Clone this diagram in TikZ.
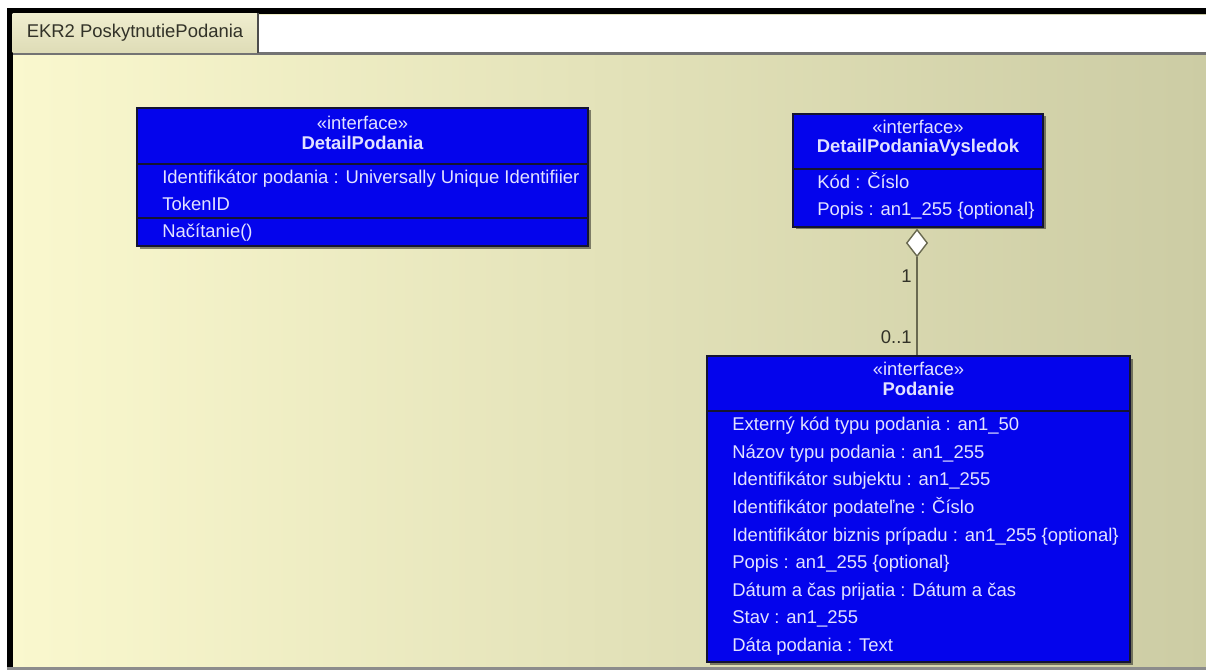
\documentclass[tikz,border=0pt]{standalone}
\usepackage{fontspec}
\setmainfont{Liberation Sans}
\usetikzlibrary{shapes.geometric, positioning, fit, shadows}
\definecolor{umlblue}{RGB}{4,4,236}
\definecolor{umltext}{RGB}{226,226,255}
\definecolor{umledge}{RGB}{20,20,50}
\definecolor{canvasleft}{RGB}{250,248,206}
\definecolor{canvasright}{RGB}{204,204,164}
\definecolor{tabtop}{RGB}{240,238,208}
\definecolor{tabbottom}{RGB}{222,220,182}
\definecolor{tabtext}{RGB}{50,50,40}
\definecolor{linkgray}{RGB}{105,105,80}

\begin{document}
\begin{tikzpicture}[x=0.02cm, y=-0.02cm,
  classbox/.style={draw=umledge, fill=umlblue, inner sep=0pt, line width=0.6pt,
                   drop shadow={shadow xshift=0.05cm, shadow yshift=-0.05cm,
                                opacity=0.45, fill=black}},
  sep/.style={draw=umledge, line width=0.8pt},
  stereo/.style={font=\fontsize{10.5}{12}\selectfont, text=umltext, inner sep=0pt},
  cname/.style={font=\fontsize{10.5}{12}\selectfont\bfseries, text=umltext, inner sep=0pt},
  attr/.style={font=\fontsize{10.5}{12}\selectfont, text=umltext, inner sep=0pt, anchor=mid west},
  mult/.style={font=\fontsize{10.5}{12}\selectfont, text=tabtext, inner sep=0pt, anchor=mid east},
  tabbox/.style={top color=tabtop, bottom color=tabbottom, inner sep=0pt,
                 minimum width=4.9cm, minimum height=0.8cm,
                 font=\fontsize{10.5}{12}\selectfont, text=tabtext},
  assoc/.style={draw=linkgray, line width=1pt},
  aggr/.style={diamond, draw=linkgray, fill=white, inner sep=0pt,
               minimum width=0.42cm, minimum height=0.54cm, line width=0.8pt},
]
\useasboundingbox (0,0) rectangle (1206,672);
\fill[white] (0,0) rectangle (1206,672);
\shade[left color=canvasleft, right color=canvasright] (10,12) rectangle (1206,668);
\fill[white] (258,15) rectangle (1206,52);
\fill[black!55] (13,52) rectangle (1206,55);
\fill[black] (7,8) rectangle (1206,14);
\fill[black] (7,8) rectangle (13,668);
\fill[black!45] (7,667) rectangle (1206,670);

\node[tabbox] (tab) at (135,33) {EKR2 PoskytnutiePodania};
\draw[black!70, line width=1.2pt] (tab.north east) -- (tab.south east);

% DetailPodania
\node[classbox, fit={(137,108) (588,246)}] (detail) {};
\draw[sep] (detail.west |- 0,164) -- (detail.east |- 0,164);
\draw[sep] (detail.west |- 0,218) -- (detail.east |- 0,218);
\node[stereo] (dpStereo) at (detail.north |- 0,123) {«interface»};
\node[cname] (dpName) at (detail.north |- 0,143) {DetailPodania};
\node[attr] (dpA1) at (162,179) {Identifikátor podania : Universally Unique Identifiier};
\node[attr] (dpA2) at (162,206) {TokenID};
\node[attr] (dpOp) at (162,233) {Načítanie()};

% DetailPodaniaVysledok
\node[classbox, fit={(793,114) (1043,227)}] (vysledok) {};
\draw[sep] (vysledok.west |- 0,169) -- (vysledok.east |- 0,169);
\node[stereo] (dvStereo) at (vysledok.north |- 0,127) {«interface»};
\node[cname] (dvName) at (vysledok.north |- 0,148) {DetailPodaniaVysledok};
\node[attr] (dvA1) at (817,184) {Kód : Číslo};
\node[attr] (dvA2) at (817,211) {Popis : an1\_255 \{optional\}};

% Podanie
\node[classbox, fit={(707,356) (1130,662)}] (podanie) {};
\draw[sep] (podanie.west |- 0,411) -- (podanie.east |- 0,411);
\node[stereo] (pStereo) at (podanie.north |- 0,369) {«interface»};
\node[cname] (pName) at (podanie.north |- 0,389) {Podanie};
\foreach \txt [count=\i] in {
    {Externý kód typu podania : an1\_50},
    {Názov typu podania : an1\_255},
    {Identifikátor subjektu : an1\_255},
    {Identifikátor podateľne : Číslo},
    {Identifikátor biznis prípadu : an1\_255 \{optional\}},
    {Popis : an1\_255 \{optional\}},
    {Dátum a čas prijatia : Dátum a čas},
    {Stav : an1\_255},
    {Dáta podania : Text}}
  \node[attr] (pA\i) at (732,{426+27.6*(\i-1)}) {\txt};

\node[aggr] (agg) at (917,243) {};
\draw[assoc] (agg.south) -- (agg.south |- podanie.north);
\node[mult] (multOne) at (912,278) {1};
\node[mult] (multOpt) at (912,339) {0..1};

\end{tikzpicture}
\end{document}
